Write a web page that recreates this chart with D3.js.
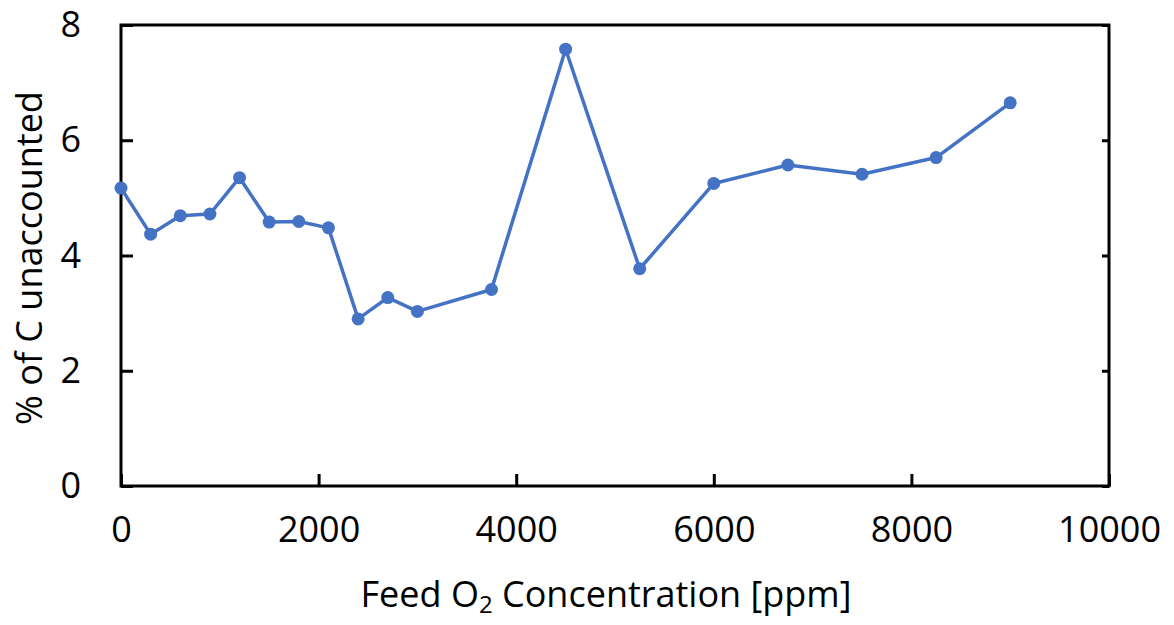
<!DOCTYPE html>
<html>
<head>
<meta charset="utf-8">
<script src="https://cdn.jsdelivr.net/npm/d3@7"></script>
<style>
  body { margin: 0; background: #fff; }
  text { font-family: "Open Sans", "Noto Sans", sans-serif; fill: #000; }
</style>
</head>
<body>
<script>
// data
var feedO2 = [0, 300, 600, 900, 1200, 1500, 1800, 2100, 2400, 2700, 3000, 3750, 4500, 5250, 6000, 6750, 7500, 8250, 9000];
var unaccounted = [5.17, 4.37, 4.69, 4.72, 5.35, 4.58, 4.59, 4.48, 2.90, 3.27, 3.03, 3.41, 7.58, 3.77, 5.25, 5.57, 5.41, 5.70, 6.65];
var xTicks = [0, 2000, 4000, 6000, 8000, 10000];
var yTicks = [0, 2, 4, 6, 8];

var width = 1174;
var height = 625;
var plotLeft = 121, plotRight = 1109, plotTop = 25, plotBottom = 486;

var svg = d3.select("body")
            .append("svg")
            .attr("width", width)
            .attr("height", height);

var x = d3.scaleLinear()
          .domain([0, 10000])
          .range([plotLeft, plotRight]);

var y = d3.scaleLinear()
          .domain([0, 8])
          .range([plotBottom, plotTop]);

// frame
svg.append("rect")
   .attr("x", plotLeft)
   .attr("y", plotTop)
   .attr("width", plotRight - plotLeft)
   .attr("height", plotBottom - plotTop)
   .attr("fill", "none")
   .attr("stroke", "#000")
   .attr("stroke-width", 3);

// bottom axis, ticks inward
var xAxis = d3.axisBottom(x)
              .tickValues(xTicks)
              .tickSizeInner(-12)
              .tickSizeOuter(0)
              .tickPadding(30)
              .tickFormat(d3.format("d"));

var gx = svg.append("g")
   .attr("transform", "translate(0," + plotBottom + ")")
   .call(xAxis);
gx.select(".domain").remove();
gx.selectAll("line").attr("stroke-width", 3);
gx.selectAll("text").attr("font-size", 36).attr("font-family", "Open Sans");

// left axis, ticks inward
var yAxis = d3.axisLeft(y)
              .tickValues(yTicks)
              .tickSizeInner(-12)
              .tickSizeOuter(0)
              .tickPadding(40);

var gy = svg.append("g")
   .attr("transform", "translate(" + plotLeft + ",0)")
   .call(yAxis);
gy.select(".domain").remove();
gy.selectAll("line").attr("stroke-width", 3);
gy.selectAll("text").attr("font-size", 36).attr("font-family", "Open Sans");

// right side mirror ticks
var gr = svg.append("g")
   .attr("transform", "translate(" + plotRight + ",0)")
   .call(d3.axisRight(y).tickValues(yTicks).tickSizeInner(-7).tickSizeOuter(0).tickFormat(""));
gr.select(".domain").remove();
gr.selectAll("line").attr("stroke-width", 3);

// line
var line = d3.line()
             .x(function(d, i){ return x(feedO2[i]); })
             .y(function(d){ return y(d); });

svg.append("path")
   .datum(unaccounted)
   .attr("d", line)
   .attr("fill", "none")
   .attr("stroke", "#4472C4")
   .attr("stroke-width", 3.5)
   .attr("stroke-linejoin", "round");

svg.selectAll("circle")
   .data(unaccounted)
   .enter()
      .append("circle")
      .attr("cx", function(d, i){ return x(feedO2[i]); })
      .attr("cy", function(d){ return y(d); })
      .attr("r", 6.5)
      .attr("fill", "#4472C4");

// axis titles
var xt = svg.append("text")
   .attr("x", 606)
   .attr("y", 607)
   .attr("text-anchor", "middle")
   .attr("font-size", 36);
xt.append("tspan").text("Feed O");
xt.append("tspan").attr("font-size", 24).attr("dy", 6).text("2");
xt.append("tspan").attr("dy", -6).text(" Concentration [ppm]");

svg.append("text")
   .attr("transform", "translate(42,258) rotate(-90)")
   .attr("text-anchor", "middle")
   .attr("font-size", 36)
   .text("% of C unaccounted");
</script>
</body>
</html>
